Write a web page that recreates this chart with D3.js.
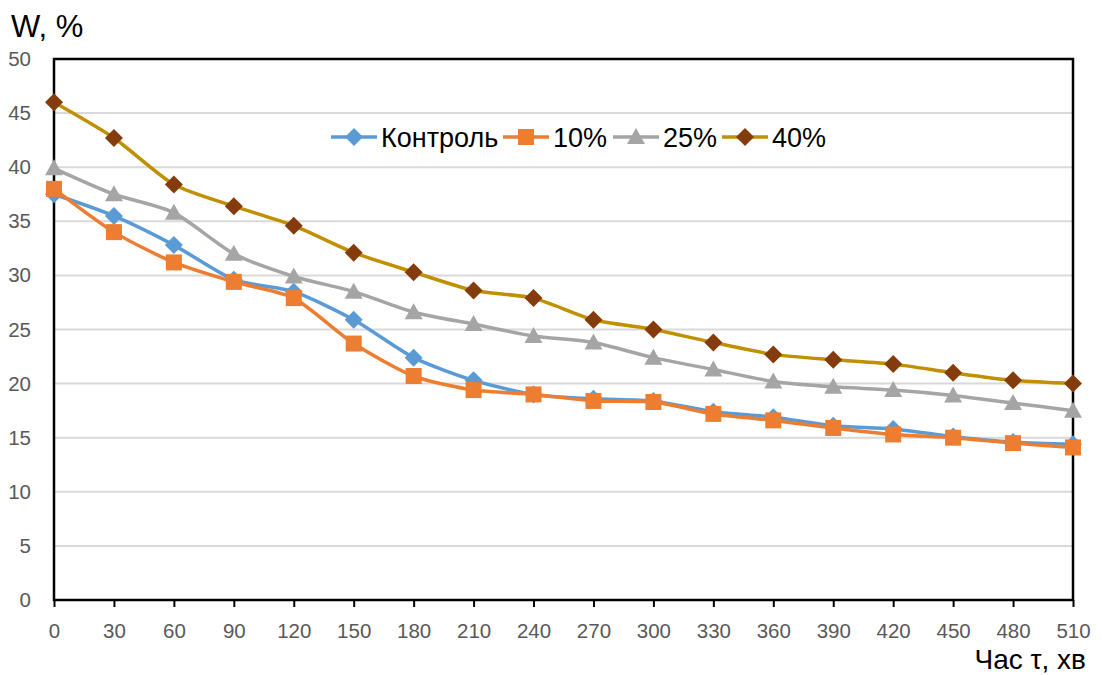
<!DOCTYPE html>
<html><head><meta charset="utf-8">
<script src="https://cdn.jsdelivr.net/npm/d3@7/dist/d3.min.js"></script>
<style>body{margin:0;background:#fff}svg{display:block}</style>
</head><body><svg id="c" width="1102" height="675"></svg>
<script>
const times = [0,30,60,90,120,150,180,210,240,270,300,330,360,390,420,450,480,510];
const control = [37.5,35.5,32.8,29.6,28.5,25.9,22.4,20.3,19.0,18.6,18.4,17.4,16.9,16.1,15.8,15.1,14.6,14.4];
const p10 = [38.0,34.0,31.2,29.4,27.9,23.7,20.7,19.4,19.0,18.4,18.3,17.2,16.6,15.9,15.3,15.0,14.5,14.1];
const p25 = [39.9,37.5,35.8,32.0,29.9,28.5,26.6,25.5,24.4,23.8,22.4,21.3,20.2,19.7,19.4,18.9,18.2,17.5];
const p40 = [46.0,42.7,38.4,36.4,34.6,32.1,30.3,28.6,27.9,25.9,25.0,23.8,22.7,22.2,21.8,21.0,20.3,20.0];
const yTicks = [0,5,10,15,20,25,30,35,40,45,50];
const seriesNames = ["Контроль","10%","25%","40%"];

const series = [
  {name:seriesNames[0], values:control, line:"#5B9BD5", fill:"#5B9BD5", shape:"diamond"},
  {name:seriesNames[1], values:p10, line:"#ED7D31", fill:"#ED7D31", shape:"square"},
  {name:seriesNames[2], values:p25, line:"#A5A5A5", fill:"#A5A5A5", shape:"triangle"},
  {name:seriesNames[3], values:p40, line:"#C09000", fill:"#843C0C", shape:"diamond"}
];

const svg = d3.select("#c");
const L=54, R=1073, T=59, B=600;
const x = d3.scaleLinear().domain([0,510]).range([L,R]);
const y = d3.scaleLinear().domain([0,50]).range([B,T]);
const font = "'Liberation Sans',Arial,sans-serif";

// gridlines
svg.append("g").selectAll("line").data(yTicks.filter(d=>d>0&&d<50)).join("line")
  .attr("x1",L).attr("x2",R).attr("y1",d=>y(d)).attr("y2",d=>y(d))
  .attr("stroke","#D9D9D9").attr("stroke-width",2);

// frame
svg.append("rect").attr("x",L).attr("y",T).attr("width",R-L).attr("height",B-T)
  .attr("fill","none").attr("stroke","#000").attr("stroke-width",2.5);

// x axis
const xAxis = d3.axisBottom(x).tickValues(times).tickSize(7).tickPadding(16).tickFormat(d3.format("d"));
const gx = svg.append("g").attr("transform",`translate(0,${B})`).call(xAxis);
gx.select(".domain").remove();
gx.selectAll(".tick line").attr("stroke","#000").attr("stroke-width",2);
gx.selectAll(".tick text").attr("fill","#595959").style("font-family",font).style("font-size","20.5px");

// y axis
const yAxis = d3.axisLeft(y).tickValues(yTicks).tickSize(0).tickPadding(23);
const gy = svg.append("g").attr("transform",`translate(${L},0)`).call(yAxis);
gy.select(".domain").remove();
gy.selectAll(".tick text").attr("fill","#595959").style("font-family",font).style("font-size","20.5px");

const line = d3.line().x((d,i)=>x(times[i])).y(d=>y(d)).curve(d3.curveCardinal.tension(0.3));

function marker(g, shape, fill, cx, cy){
  if(shape==="diamond"){
    g.append("path").attr("d",`M${cx},${cy-9}L${cx+9},${cy}L${cx},${cy+9}L${cx-9},${cy}Z`).attr("fill",fill);
  } else if(shape==="square"){
    g.append("rect").attr("x",cx-8).attr("y",cy-8).attr("width",16).attr("height",16).attr("fill",fill);
  } else {
    g.append("path").attr("d",`M${cx},${cy-9}L${cx+9},${cy+7}L${cx-9},${cy+7}Z`).attr("fill",fill);
  }
}

series.forEach(s=>{
  svg.append("path").datum(s.values).attr("d",line).attr("fill","none")
    .attr("stroke",s.line).attr("stroke-width",3.5).attr("stroke-linejoin","round");
  const g = svg.append("g");
  s.values.forEach((v,i)=>marker(g,s.shape,s.fill,x(times[i]),y(v)));
});

// legend
const legX = [331, 503, 613, 722];
const legY = 137;
series.forEach((s,i)=>{
  const g = svg.append("g");
  g.append("line").attr("x1",legX[i]).attr("x2",legX[i]+46).attr("y1",legY).attr("y2",legY)
    .attr("stroke",s.line).attr("stroke-width",3.5);
  marker(g,s.shape,s.fill,legX[i]+23,legY);
  g.append("text").attr("x",legX[i]+50).attr("y",legY).attr("dy","0.36em")
    .style("font-family",font).style("font-size","27px").attr("fill","#000").text(s.name);
});

// axis titles
svg.append("text").attr("x",11).attr("y",37).style("font-family",font).style("font-size","31px").attr("fill","#000").text("W, %");
svg.append("text").attr("x",1086).attr("y",669).attr("text-anchor","end").style("font-family",font).style("font-size","28px").attr("fill","#000").text("Час τ, хв");
</script></body></html>
